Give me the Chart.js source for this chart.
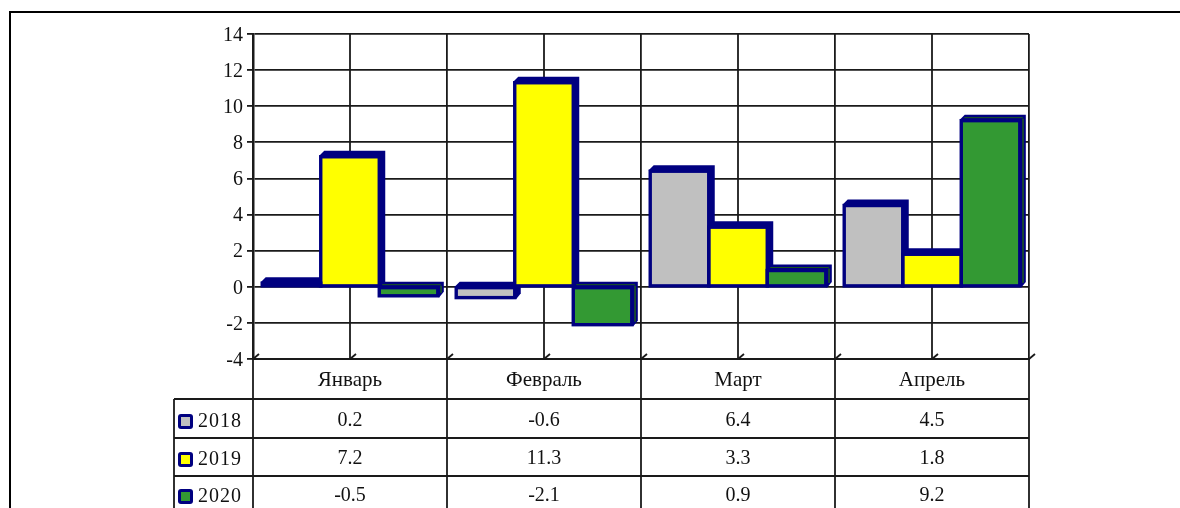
<!DOCTYPE html>
<html>
<head>
<meta charset="utf-8">
<script src="https://cdn.jsdelivr.net/npm/chart.js@4"></script>
<style>
  html, body { margin: 0; padding: 0; background: #fff; overflow: hidden; }
  canvas { display: block; }
</style>
</head>
<body>
<canvas id="chart" width="1180" height="508"></canvas>
<script>
const months = ["Январь", "Февраль", "Март", "Апрель"];
const years = ["2018", "2019", "2020"];
const values2018 = [0.2, -0.6, 6.4, 4.5];
const values2019 = [7.2, 11.3, 3.3, 1.8];
const values2020 = [-0.5, -2.1, 0.9, 9.2];
const yMin = -4;
const yMax = 14;
const yStep = 2;

const navy = "#000080";
const fills = ["#c0c0c0", "#ffff00", "#339933"];
const lineColor = "#1a1a1a";
const serif = "'Liberation Serif', serif";
const depth = 5;
const gridWidth = 1.8;

function barBox(bar) {
  const p = bar.getProps(["x", "y", "base", "width"], true);
  return {
    l: p.x - p.width / 2,
    r: p.x + p.width / 2,
    top: Math.min(p.y, p.base),
    bottom: Math.max(p.y, p.base)
  };
}

// grid centre lines, small slanted ticks and the 3D faces behind the bars
const behindBars = {
  id: "behindBars",
  beforeDatasetsDraw(chart) {
    const ctx = chart.ctx;
    const area = chart.chartArea;
    const x = chart.scales.x;
    ctx.save();
    ctx.strokeStyle = lineColor;
    ctx.lineWidth = gridWidth;
    months.forEach((m, i) => {
      const c = x.getPixelForValue(i);
      ctx.beginPath();
      ctx.moveTo(c, area.top);
      ctx.lineTo(c, area.bottom);
      ctx.stroke();
    });
    for (let i = 0; i < months.length * 2 + 1; i++) {
      const tx = area.left + (area.right - area.left) * i / (months.length * 2);
      ctx.beginPath();
      ctx.moveTo(tx, area.bottom);
      ctx.lineTo(tx + 6, area.bottom - 5);
      ctx.stroke();
    }
    chart.data.datasets.forEach((ds, d) => {
      chart.getDatasetMeta(d).data.forEach((bar) => {
        const b = barBox(bar);
        ctx.fillStyle = navy;
        ctx.beginPath();
        ctx.moveTo(b.l - 1.5, b.top - 1);
        ctx.lineTo(b.l + depth - 1.5, b.top - depth - 1);
        ctx.lineTo(b.r + depth + 1, b.top - depth - 1);
        ctx.lineTo(b.r + depth + 1, b.bottom - depth + 1);
        ctx.lineTo(b.r + 1.5, b.bottom + 1.5);
        ctx.closePath();
        ctx.fill();
        // dark inner strips on the faces of the green bars
        if (d === 2) {
          ctx.fillStyle = "#1c5a1c";
          ctx.fillRect(b.l + 3, b.top - 3.5, b.r - b.l, 1);
          ctx.fillRect(b.r + 2.5, b.top - 2, 1.5, b.bottom - b.top - 1);
        }
      });
    });
    ctx.restore();
  },
  // the navy outline sits centred on the bar edge
  afterDatasetsDraw(chart) {
    const ctx = chart.ctx;
    ctx.save();
    ctx.strokeStyle = navy;
    ctx.lineWidth = 3.4;
    chart.data.datasets.forEach((ds, d) => {
      chart.getDatasetMeta(d).data.forEach((bar) => {
        const b = barBox(bar);
        ctx.strokeRect(b.l, b.top, b.r - b.l, b.bottom - b.top);
      });
    });
    ctx.restore();
  }
};

// y labels, data table under the axis and the outer frame
const dataTable = {
  id: "dataTable",
  afterDraw(chart) {
    const ctx = chart.ctx;
    const x = chart.scales.x;
    const yScale = chart.scales.y;
    const area = chart.chartArea;
    const rows = [399, 438, 476];
    const rowText = [421, 459, 496];
    const series = [values2018, values2019, values2020];
    const tableLeft = 174;
    const pageBottom = 508;
    ctx.save();
    ctx.strokeStyle = lineColor;
    ctx.lineWidth = gridWidth;
    rows.forEach((y) => {
      ctx.beginPath();
      ctx.moveTo(tableLeft, y);
      ctx.lineTo(area.right, y);
      ctx.stroke();
    });
    const step = (area.right - area.left) / months.length;
    for (let i = 0; i <= months.length; i++) {
      const vx = area.left + step * i;
      ctx.beginPath();
      ctx.moveTo(vx, area.bottom);
      ctx.lineTo(vx, pageBottom);
      ctx.stroke();
    }
    ctx.beginPath();
    ctx.moveTo(tableLeft, rows[0]);
    ctx.lineTo(tableLeft, pageBottom);
    ctx.stroke();

    ctx.font = "20px " + serif;
    ctx.textBaseline = "middle";
    ctx.fillStyle = "#111";
    ctx.textAlign = "right";
    yScale.ticks.forEach((t) => {
      ctx.fillText(String(t.value), 243, yScale.getPixelForValue(t.value) + 1.5);
    });

    series.forEach((vals, r) => {
      const y = rowText[r];
      ctx.fillStyle = navy;
      ctx.beginPath();
      ctx.roundRect(178, y - 7, 15, 15, 3);
      ctx.fill();
      ctx.fillStyle = fills[r];
      ctx.fillRect(181, y - 4, 9, 9);
      ctx.fillStyle = "#111";
      ctx.textAlign = "left";
      ctx.letterSpacing = "1px";
      ctx.fillText(years[r], 198, y + 1);
      ctx.letterSpacing = "0px";
      ctx.textAlign = "center";
      vals.forEach((v, i) => {
        ctx.fillText(v.toFixed(1), x.getPixelForValue(i), y);
      });
    });

    ctx.lineWidth = 2;
    ctx.strokeStyle = "#000";
    ctx.beginPath();
    ctx.moveTo(10, pageBottom);
    ctx.lineTo(10, 12);
    ctx.lineTo(1180, 12);
    ctx.stroke();
    ctx.restore();
  }
};

new Chart(document.getElementById("chart"), {
  type: "bar",
  data: {
    labels: months,
    datasets: years.map((y, i) => ({
      label: y,
      data: [values2018, values2019, values2020][i],
      backgroundColor: fills[i],
      borderWidth: 0,
      barPercentage: 1,
      categoryPercentage: 0.905
    }))
  },
  options: {
    responsive: false,
    animation: false,
    devicePixelRatio: 1,
    layout: { padding: { left: 213, top: 34, right: 151, bottom: 109 } },
    plugins: { legend: { display: false }, tooltip: { enabled: false } },
    scales: {
      x: {
        afterFit(s) { s.height = 40; },
        grid: { offset: true, color: lineColor, lineWidth: gridWidth, tickLength: 0 },
        border: { color: lineColor, width: 2 },
        ticks: { color: "#111", padding: 9, maxRotation: 0, font: { family: serif, size: 21 } }
      },
      y: {
        min: yMin,
        max: yMax,
        afterFit(s) { s.width = 40; },
        grid: { color: lineColor, lineWidth: gridWidth, tickLength: 6 },
        border: { color: lineColor, width: 2.5 },
        ticks: { display: false, stepSize: yStep }
      }
    }
  },
  plugins: [behindBars, dataTable]
});
</script>
</body>
</html>
